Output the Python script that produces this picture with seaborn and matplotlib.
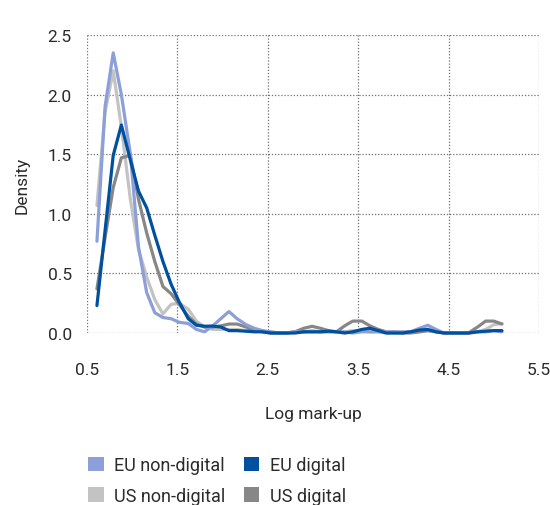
import numpy as np
import pandas as pd
import matplotlib
matplotlib.use("Agg")
import matplotlib.pyplot as plt
from matplotlib.patches import Patch
import seaborn as sns

# evaluation grid of the density estimates (log mark-up)
log_markup = [0.61, 0.70, 0.79, 0.88, 0.98, 1.07, 1.16, 1.25, 1.34, 1.43,
              1.52, 1.62, 1.71, 1.80, 1.89, 1.98, 2.07, 2.16, 2.26, 2.35,
              2.44, 2.53, 2.62, 2.71, 2.80, 2.90, 2.99, 3.08, 3.17, 3.26,
              3.35, 3.44, 3.54, 3.63, 3.72, 3.81, 3.90, 3.99, 4.08, 4.18,
              4.27, 4.36, 4.45, 4.54, 4.63, 4.72, 4.82, 4.91, 5.00, 5.09]

eu_non_digital = [0.77, 1.90, 2.35, 2.00, 1.50, 0.72, 0.34, 0.17, 0.13, 0.12,
                  0.09, 0.08, 0.03, 0.01, 0.06, 0.12, 0.18, 0.12, 0.07, 0.04,
                  0.02, 0.01, 0.00, 0.00, 0.01, 0.01, 0.01, 0.01, 0.01, 0.01,
                  0.01, 0.00, 0.01, 0.01, 0.01, 0.01, 0.01, 0.01, 0.01, 0.04,
                  0.065, 0.03, 0.00, 0.00, 0.00, 0.00, 0.01, 0.01, 0.02, 0.01]

us_non_digital = [1.07, 1.85, 2.20, 1.73, 1.12, 0.70, 0.47, 0.28, 0.16, 0.24,
                  0.25, 0.20, 0.10, 0.05, 0.03, 0.03, 0.03, 0.03, 0.02, 0.02,
                  0.01, 0.01, 0.00, 0.00, 0.01, 0.01, 0.02, 0.01, 0.01, 0.01,
                  0.01, 0.02, 0.02, 0.01, 0.01, 0.00, 0.00, 0.00, 0.01, 0.01,
                  0.02, 0.01, 0.00, 0.00, 0.00, 0.00, 0.01, 0.03, 0.07, 0.08]

eu_digital = [0.23, 0.86, 1.49, 1.745, 1.45, 1.19, 1.05, 0.82, 0.60, 0.41,
              0.26, 0.12, 0.065, 0.057, 0.058, 0.05, 0.02, 0.02, 0.015, 0.01,
              0.01, 0.00, 0.00, 0.00, 0.00, 0.01, 0.01, 0.01, 0.015, 0.01,
              0.00, 0.01, 0.03, 0.04, 0.02, 0.00, 0.00, 0.00, 0.01, 0.025,
              0.03, 0.01, 0.00, 0.00, 0.00, 0.00, 0.01, 0.015, 0.02, 0.02]

us_digital = [0.37, 0.80, 1.22, 1.47, 1.49, 1.12, 0.84, 0.60, 0.39, 0.33,
              0.24, 0.14, 0.075, 0.05, 0.05, 0.06, 0.075, 0.075, 0.05, 0.02,
              0.01, 0.00, 0.00, 0.00, 0.01, 0.04, 0.056, 0.04, 0.02, 0.01,
              0.06, 0.10, 0.10, 0.06, 0.03, 0.01, 0.01, 0.00, 0.00, 0.01,
              0.02, 0.01, 0.00, 0.00, 0.00, 0.00, 0.05, 0.10, 0.10, 0.075]

series = {
    "US non-digital": us_non_digital,
    "US digital": us_digital,
    "EU non-digital": eu_non_digital,
    "EU digital": eu_digital,
}
colors = {
    "EU non-digital": "#8c9fd8",
    "EU digital": "#0050a0",
    "US non-digital": "#c3c3c3",
    "US digital": "#878787",
}
legend_order = ["EU non-digital", "US non-digital", "EU digital", "US digital"]

df = pd.concat(
    [pd.DataFrame({"x": log_markup, "density": v, "group": k}) for k, v in series.items()],
    ignore_index=True,
)

sns.set_style("white")
plt.rcParams["font.family"] = ["Roboto", "DejaVu Sans"]
text_color = "#2b2b2b"
fs = 12.5

fig = plt.figure(figsize=(5.5, 5.06), dpi=100)
ax = fig.add_axes([87 / 550, 1 - 334 / 506, (539 - 87) / 550, (334 - 36) / 506])

sns.lineplot(data=df, x="x", y="density", hue="group", hue_order=list(series.keys()),
             palette=colors, linewidth=2.3, ax=ax, legend=False, clip_on=False)

ax.set_xlim(0.5, 5.5)
ax.set_ylim(0, 2.5)
ax.set_xticks([0.5, 1.5, 2.5, 3.5, 4.5, 5.5])
ax.set_yticks([0.0, 0.5, 1.0, 1.5, 2.0, 2.5])
ax.set_xticklabels(["0.5", "1.5", "2.5", "3.5", "4.5", "5.5"])
ax.set_yticklabels(["0.0", "0.5", "1.0", "1.5", "2.0", "2.5"])
ax.grid(True, linestyle=(0, (1, 1.5)), color="#6f6f6f", linewidth=0.9)
ax.set_axisbelow(True)
for s in ax.spines.values():
    s.set_visible(False)
ax.tick_params(axis="x", length=0, pad=21, labelsize=fs, labelcolor=text_color)
ax.tick_params(axis="y", length=0, pad=11, labelsize=fs, labelcolor=text_color)
ax.set_xlabel("Log mark-up", fontsize=fs, color=text_color, labelpad=21)
ax.set_ylabel("Density", fontsize=fs, color=text_color, labelpad=13)

handles = [Patch(facecolor=colors[k], edgecolor="none") for k in legend_order]
fig.legend(handles, legend_order, ncol=2, loc="upper left",
           bbox_to_anchor=(72 / 550, 1 - 441 / 506), frameon=False,
           fontsize=13, labelcolor=text_color, handlelength=0.85, handleheight=0.85,
           handletextpad=0.6, columnspacing=1.0, labelspacing=0.7)

fig.savefig("out.png", dpi=100)
